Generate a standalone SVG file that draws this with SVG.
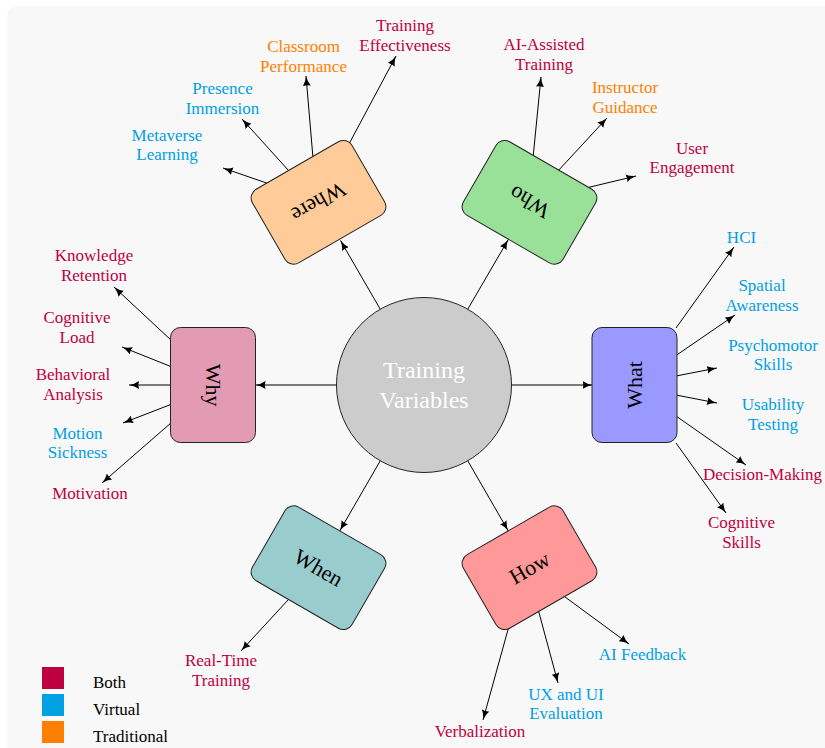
<svg xmlns="http://www.w3.org/2000/svg" width="825" height="748" viewBox="0 0 825 748">
<style>
text{font-family:"Liberation Serif","Times New Roman",serif}
.lf{font-size:17px;text-anchor:middle}
.both{fill:#bf0040}
.virt{fill:#00a0e3}
.trad{fill:#ff8000}
.box{stroke:#222;stroke-width:1}
.nt{font-size:22px;text-anchor:middle;fill:#000}
.cn line{stroke:#000;stroke-width:1;marker-end:url(#ah)}
.lg{font-size:17px;fill:#000}
</style>
<defs>
<marker id="ah" markerUnits="userSpaceOnUse" markerWidth="11" markerHeight="8" refX="10" refY="4" orient="auto">
<path d="M0,0 Q4,3 10,4 Q4,5 0,8 Q1.5,4 0,0 Z" fill="#000"/>
</marker>
</defs>
<rect x="7" y="6" width="840" height="770" rx="10" fill="#f8f8f8"/>

<g id="connectors" class="cn">
<line x1="511.5" y1="385" x2="592.5" y2="385"/>
<line x1="336.5" y1="385" x2="255.5" y2="385"/>
<line x1="467.75" y1="309.2" x2="508.25" y2="239.6"/>
<line x1="380.25" y1="309.2" x2="340.5" y2="240.5"/>
<line x1="380.25" y1="460.8" x2="339.75" y2="530.9"/>
<line x1="467.75" y1="460.8" x2="508.25" y2="530.9"/>
<line x1="268" y1="183.5" x2="223" y2="168"/>
<line x1="289" y1="171" x2="242" y2="119"/>
<line x1="313" y1="158" x2="306" y2="76"/>
<line x1="349.5" y1="143" x2="396" y2="56"/>
<line x1="533" y1="158" x2="541" y2="77"/>
<line x1="557" y1="172" x2="607" y2="118"/>
<line x1="586" y1="188" x2="636" y2="176"/>
<line x1="676" y1="328" x2="734" y2="247"/>
<line x1="676" y1="355.5" x2="735" y2="315"/>
<line x1="676" y1="376" x2="717" y2="368"/>
<line x1="676" y1="395" x2="717" y2="403"/>
<line x1="676" y1="416" x2="746" y2="465"/>
<line x1="676" y1="443" x2="726" y2="513"/>
<line x1="172" y1="341" x2="114" y2="287"/>
<line x1="172" y1="367" x2="122" y2="347"/>
<line x1="172" y1="385" x2="129" y2="385"/>
<line x1="172" y1="404" x2="123" y2="423"/>
<line x1="172" y1="422" x2="102" y2="483"/>
<line x1="288" y1="600" x2="241" y2="651"/>
<line x1="561" y1="594" x2="629" y2="644"/>
<line x1="538" y1="609" x2="558" y2="683"/>
<line x1="509" y1="626" x2="483" y2="720"/>
</g>

<g id="center">
<circle cx="424" cy="385" r="87.5" fill="#cccccc" stroke="#222" stroke-width="1"/>
<text x="424" y="378" font-size="24" text-anchor="middle" fill="#fff">Training</text>
<text x="424" y="408" font-size="24" text-anchor="middle" fill="#fff">Variables</text>
</g>

<g id="node-what" transform="translate(634.5,385) rotate(-90)">
<rect class="box" x="-57.5" y="-42.5" width="115" height="85" rx="10" fill="#9999ff"/>
<text class="nt" y="7.5">What</text>
</g>
<g id="node-who" transform="translate(529.5,202.3) rotate(-150)">
<rect class="box" x="-57.5" y="-42.5" width="115" height="85" rx="10" fill="#99e099"/>
<text class="nt" y="7.5">Who</text>
</g>
<g id="node-where" transform="translate(318.5,202.3) rotate(150)">
<rect class="box" x="-57.5" y="-42.5" width="115" height="85" rx="10" fill="#ffcc99"/>
<text class="nt" y="7.5">Where</text>
</g>
<g id="node-why" transform="translate(213,385) rotate(90)">
<rect class="box" x="-57.5" y="-42.5" width="115" height="85" rx="10" fill="#e39ab3"/>
<text class="nt" y="7.5">Why</text>
</g>
<g id="node-when" transform="translate(318.5,567.7) rotate(30)">
<rect class="box" x="-57.5" y="-42.5" width="115" height="85" rx="10" fill="#99cccc"/>
<text class="nt" y="7.5">When</text>
</g>
<g id="node-how" transform="translate(529.5,567.7) rotate(-30)">
<rect class="box" x="-57.5" y="-42.5" width="115" height="85" rx="10" fill="#ff9999"/>
<text class="nt" y="7.5">How</text>
</g>

<g id="leaf-metaverse"><text class="lf virt"><tspan x="167" y="141">Metaverse</tspan><tspan x="167" y="160">Learning</tspan></text></g>
<g id="leaf-presence"><text class="lf virt"><tspan x="222.5" y="94">Presence</tspan><tspan x="222.5" y="114">Immersion</tspan></text></g>
<g id="leaf-classroom"><text class="lf trad"><tspan x="303.5" y="52">Classroom</tspan><tspan x="303.5" y="72">Performance</tspan></text></g>
<g id="leaf-effectiveness"><text class="lf both"><tspan x="405" y="31">Training</tspan><tspan x="405" y="51">Effectiveness</tspan></text></g>
<g id="leaf-ai-assisted"><text class="lf both"><tspan x="544" y="50">AI-Assisted</tspan><tspan x="544" y="69.5">Training</tspan></text></g>
<g id="leaf-instructor"><text class="lf trad"><tspan x="625" y="93">Instructor</tspan><tspan x="625" y="113">Guidance</tspan></text></g>
<g id="leaf-engagement"><text class="lf both"><tspan x="692" y="154">User</tspan><tspan x="692" y="173">Engagement</tspan></text></g>
<g id="leaf-hci"><text class="lf virt" x="741.5" y="243">HCI</text></g>
<g id="leaf-spatial"><text class="lf virt"><tspan x="762" y="291">Spatial</tspan><tspan x="762" y="311">Awareness</tspan></text></g>
<g id="leaf-psychomotor"><text class="lf virt"><tspan x="773" y="351">Psychomotor</tspan><tspan x="773" y="370">Skills</tspan></text></g>
<g id="leaf-usability"><text class="lf virt"><tspan x="773" y="410">Usability</tspan><tspan x="773" y="430">Testing</tspan></text></g>
<g id="leaf-decision"><text class="both" font-size="17" x="703" y="480">Decision-Making</text></g>
<g id="leaf-cognitive-skills"><text class="lf both"><tspan x="741.5" y="528">Cognitive</tspan><tspan x="741.5" y="548">Skills</tspan></text></g>
<g id="leaf-knowledge"><text class="lf both"><tspan x="94" y="261">Knowledge</tspan><tspan x="94" y="281">Retention</tspan></text></g>
<g id="leaf-cognitive-load"><text class="lf both"><tspan x="77" y="323">Cognitive</tspan><tspan x="77" y="343">Load</tspan></text></g>
<g id="leaf-behavioral"><text class="lf both"><tspan x="73" y="380">Behavioral</tspan><tspan x="73" y="399.5">Analysis</tspan></text></g>
<g id="leaf-motion"><text class="lf virt"><tspan x="77.5" y="439">Motion</tspan><tspan x="77.5" y="458">Sickness</tspan></text></g>
<g id="leaf-motivation"><text class="lf both" x="90" y="499">Motivation</text></g>
<g id="leaf-realtime"><text class="lf both"><tspan x="221" y="666">Real-Time</tspan><tspan x="221" y="686">Training</tspan></text></g>
<g id="leaf-ai-feedback"><text class="lf virt" x="642.5" y="660">AI Feedback</text></g>
<g id="leaf-ux"><text class="lf virt"><tspan x="566" y="700">UX and UI</tspan><tspan x="566" y="719">Evaluation</tspan></text></g>
<g id="leaf-verbalization"><text class="lf both" x="480" y="736.5">Verbalization</text></g>

<g id="legend">
<rect x="42" y="667" width="22" height="22" fill="#bf0040"/>
<rect x="42" y="694" width="22" height="22" fill="#00a0e3"/>
<rect x="42" y="721" width="22" height="22" fill="#ff8000"/>
<text class="lg" x="93" y="688">Both</text>
<text class="lg" x="93" y="715">Virtual</text>
<text class="lg" x="93" y="742">Traditional</text>
</g>
</svg>
